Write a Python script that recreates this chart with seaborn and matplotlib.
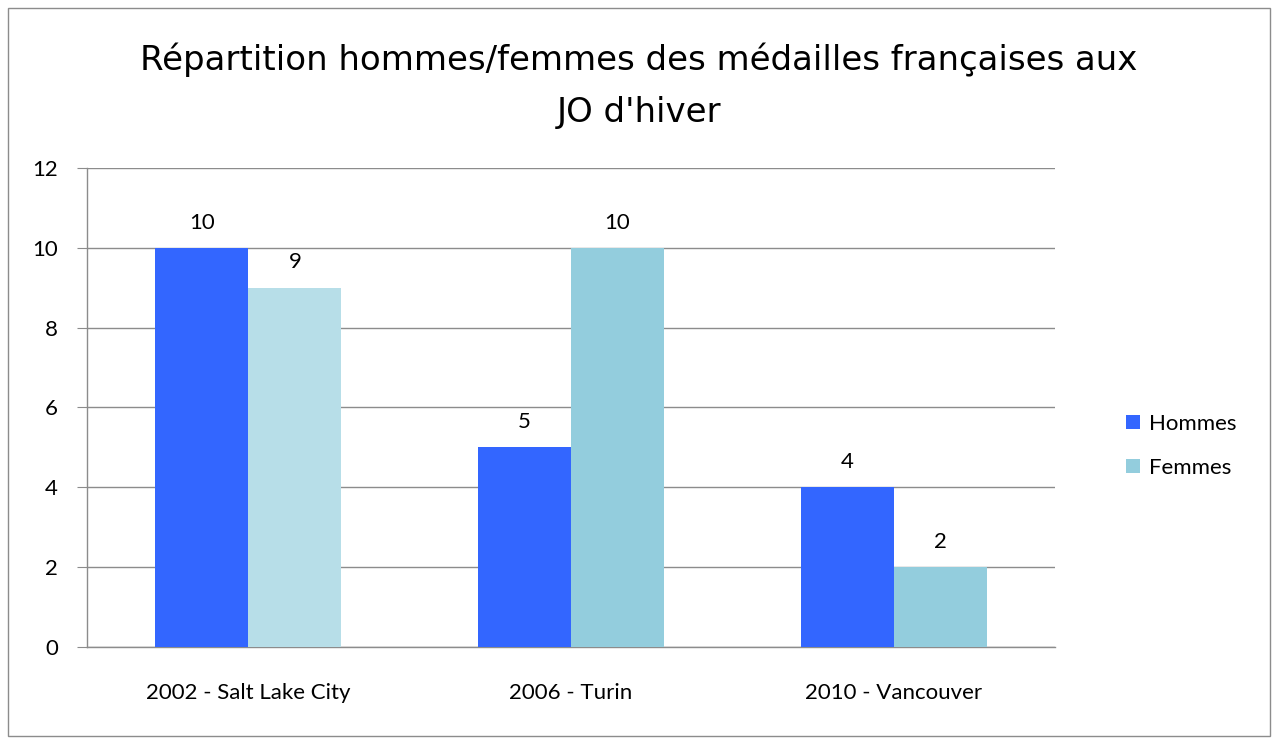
import pandas as pd
import numpy as np
import matplotlib.pyplot as plt
import seaborn as sns

# data
games = ['2002 - Salt Lake City', '2006 - Turin', '2010 - Vancouver']
hommes = [10, 5, 4]
femmes = [9, 10, 2]

df = pd.DataFrame({'Jeux': games * 2,
                   'Médailles': hommes + femmes,
                   'Sexe': ['Hommes'] * 3 + ['Femmes'] * 3})

sns.set_style('white')
plt.rcParams['font.family'] = ['Lato', 'DejaVu Sans']

fig = plt.figure(figsize=(12.78, 7.4), dpi=100)
ax = fig.add_axes([0.0681, 0.1257, 0.7574, 0.6473])

sns.barplot(data=df, x='Jeux', y='Médailles', hue='Sexe',
            palette={'Hommes': '#3366FF', 'Femmes': '#93CDDD'},
            width=0.576, saturation=1, linewidth=0, ax=ax, zorder=3)

# the first Femmes bar is lighter in the original
ax.containers[1][0].set_facecolor('#B7DEE8')

for c in ax.containers:
    ax.bar_label(c, labels=[f'{v:.0f}' for v in c.datavalues],
                 padding=11, fontsize=16, color='black')

ax.set_ylim(0, 12)
ax.set_xlim(-0.5, 2.5)
ax.set_yticks(range(0, 13, 2))
ax.yaxis.grid(True, color='#8c8c8c', linewidth=1, zorder=0)
ax.set_xlabel('')
ax.set_ylabel('')

for s in ['top', 'right']:
    ax.spines[s].set_visible(False)
for s in ['left', 'bottom']:
    ax.spines[s].set_color('#8c8c8c')
    ax.spines[s].set_linewidth(1)

ax.set_xticks([-0.5, 0.5, 1.5, 2.5], minor=True)
ax.tick_params(axis='x', which='major', length=0, pad=26, labelsize=16, labelcolor='black')
ax.tick_params(axis='x', which='minor', length=7, color='#8c8c8c', direction='out')
ax.tick_params(axis='y', length=7, color='#8c8c8c', direction='out', left=True,
               pad=14, labelsize=16, labelcolor='black')

leg = ax.legend(loc='center left', bbox_to_anchor=(1.053, 0.42), frameon=False,
                fontsize=16, handlelength=0.6, handleheight=0.6,
                handletextpad=0.4, labelspacing=1.1)
for t in leg.get_texts():
    t.set_color('black')

fig.suptitle("Répartition hommes/femmes des médailles françaises aux\nJO d'hiver",
             x=0.5, y=0.942, fontsize=24.5, linespacing=1.7, color='black',
             family=['DejaVu Sans'])

# outer chart frame
fig.add_artist(plt.Rectangle((0.006, 0.006), 0.988, 0.983, transform=fig.transFigure,
                             fill=False, edgecolor='#8c8c8c', linewidth=1))

fig.savefig('out.png', dpi=100)
